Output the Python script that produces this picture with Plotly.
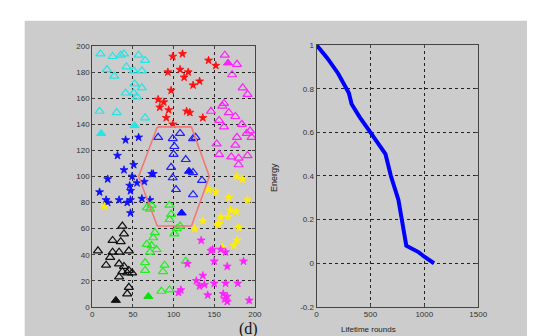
import plotly.graph_objects as go

W, H = 535, 336

# ---- scatter data (left panel) ----
cyan_x = [10, 25, 35, 39, 57, 65, 18, 27, 42, 51, 61, 52, 61, 41, 51, 55, 9, 30, 65]
cyan_y = [194, 192, 193, 194, 193, 189, 182, 177, 184, 181, 181, 171, 168, 164, 164, 161, 150, 149, 145]
cyan_head_x = [11, 52]
cyan_head_y = [133, 139]

red_x = [99, 111, 143, 152, 93, 108, 118, 113, 124, 132, 97, 81, 88, 83, 94, 116, 120, 136, 91, 99]
red_y = [192, 194, 189, 185, 180, 182, 180, 176, 170, 173, 166, 159, 157, 153, 151, 150, 149, 145, 145, 140]

mag_tri_x = [163, 178, 172, 185, 191, 162, 160, 146, 168, 176, 162, 184, 194, 190, 196, 178, 176, 153, 156, 171, 180, 191, 180, 156]
mag_tri_y = [193, 186, 178, 168, 163, 156, 154, 150, 149, 146, 138, 140, 135, 133, 130, 130, 124, 125, 117, 115, 114, 116, 109, 143]
mag_head_x = [167]
mag_head_y = [187]

blue_star_x = [41, 57, 31, 39, 51, 73, 49, 55, 64, 75, 19, 9, 46, 47, 17, 33, 43, 47, 19, 61, 71, 47]
blue_star_y = [128, 130, 116, 105, 109, 102, 100, 95, 96, 102, 98, 88, 93, 89, 82, 82, 80, 82, 80, 83, 82, 72]
blue_tri_x = [81, 99, 108, 124, 101, 100, 115, 97, 124, 99, 135, 103, 124, 127]
blue_tri_y = [130, 129, 133, 129, 123, 117, 113, 107, 103, 99, 97, 90, 86, 130]
blue_head_x = [119, 110]
blue_head_y = [104, 72]

green_x = [73, 71, 67, 95, 97, 95, 108, 101, 77, 75, 67, 73, 79, 71, 65, 65, 89, 87, 115, 85, 95, 104]
green_y = [78, 75, 76, 78, 71, 67, 62, 56, 57, 53, 48, 47, 44, 42, 34, 28, 32, 27, 35, 12, 13, 60]
green_head_x = [69]
green_head_y = [8]

black_x = [37, 39, 25, 35, 7, 25, 33, 45, 22, 17, 33, 39, 45, 49, 43, 37, 33, 45, 43]
black_y = [62, 56, 51, 50, 43, 42, 42, 43, 38, 32, 33, 31, 28, 26, 26, 27, 23, 15, 10]
black_head_x = [29]
black_head_y = [5]

yellow_x = [178, 185, 143, 152, 168, 191, 170, 177, 158, 167, 136, 156, 154, 126, 180, 178, 174, 160, 15]
yellow_y = [100, 98, 90, 88, 84, 82, 74, 73, 69, 69, 66, 64, 63, 60, 61, 51, 47, 46, 77]

mag_star_x = [134, 148, 158, 117, 150, 166, 186, 136, 128, 132, 150, 164, 179, 142, 161, 166, 166, 193, 146, 164, 109, 106, 138, 163]
mag_star_y = [51, 44, 44, 33, 35, 31, 35, 24, 20, 16, 18, 18, 18, 9, 10, 8, 4, 5, 43, 42, 13, 11, 17, 6]

hex_x = [80, 122, 144, 122, 80, 57, 80]
hex_y = [138, 138, 100, 62, 62, 100, 138]

# ---- energy data (right panel) ----
rounds = [0, 100, 200, 253, 300, 325, 400, 500, 600, 640, 690, 760, 833, 870, 950, 1000, 1090]
energy = [1.0, 0.94, 0.87, 0.82, 0.78, 0.73, 0.67, 0.60, 0.53, 0.50, 0.40, 0.29, 0.08, 0.07, 0.05, 0.03, 0.0]

left_xticks = [0, 50, 100, 150, 200]
left_yticks = list(range(0, 201, 20))
right_xticks = [0, 500, 1000, 1500]
right_yticks = [-0.2, 0, 0.2, 0.4, 0.6, 0.8, 1]
right_ylabels = ["-0.2", "0", "0.2", "0.4", "0.6", "0.8", "1"]

fig = go.Figure()

def tri_open(x, y, color):
    fig.add_trace(go.Scatter(x=x, y=y, mode="markers", xaxis="x", yaxis="y",
                             marker=dict(symbol="triangle-up-open", size=8, color=color,
                                         line=dict(width=1.2, color=color))))

def tri_fill(x, y, color):
    fig.add_trace(go.Scatter(x=x, y=y, mode="markers", xaxis="x", yaxis="y",
                             marker=dict(symbol="triangle-up", size=8, color=color,
                                         line=dict(width=1, color=color))))

def star(x, y, color):
    fig.add_trace(go.Scatter(x=x, y=y, mode="markers", xaxis="x", yaxis="y",
                             marker=dict(symbol="star", size=6, color=color,
                                         line=dict(width=0.8, color=color))))

tri_open(cyan_x, cyan_y, "#22e6e6")
tri_fill(cyan_head_x, cyan_head_y, "#22e6e6")
star(red_x, red_y, "#ff1010")
tri_open(mag_tri_x, mag_tri_y, "#ff22ff")
tri_fill(mag_head_x, mag_head_y, "#ff22ff")
star(blue_star_x, blue_star_y, "#1010ff")
tri_open(blue_tri_x, blue_tri_y, "#2020ff")
tri_fill(blue_head_x, blue_head_y, "#1010ff")
tri_open(green_x, green_y, "#22ee22")
tri_fill(green_head_x, green_head_y, "#11dd11")
tri_open(black_x, black_y, "#111111")
tri_fill(black_head_x, black_head_y, "#111111")
star(yellow_x, yellow_y, "#ffee00")
star(mag_star_x, mag_star_y, "#ff22ff")

fig.add_trace(go.Scatter(x=hex_x, y=hex_y, mode="lines", xaxis="x", yaxis="y",
                         line=dict(color="#f07878", width=1.6)))

fig.add_trace(go.Scatter(x=rounds, y=energy, mode="lines", xaxis="x2", yaxis="y2",
                         line=dict(color="#0000ff", width=4)))

tickfont = dict(family="Liberation Sans, Arial", size=8, color="#333333")
axcommon = dict(showline=True, linecolor="#444444", linewidth=1, mirror="ticks",
                ticks="inside", ticklen=3, tickcolor="#444444",
                showgrid=True, gridcolor="#222222", gridwidth=1, griddash="dot",
                zeroline=False, tickfont=tickfont, fixedrange=True)

fig.update_layout(
    width=W, height=H,
    margin=dict(l=0, r=0, t=0, b=0),
    paper_bgcolor="white",
    plot_bgcolor="white",
    showlegend=False,
    xaxis=dict(domain=[84 / W, 250 / W], range=[0, 200], tickvals=left_xticks, anchor="y", **axcommon),
    yaxis=dict(domain=[1 - 303 / H, 1 - 35 / H], range=[0, 200], tickvals=left_yticks, anchor="x", **axcommon),
    xaxis2=dict(domain=[313 / W, 478 / W], range=[0, 1500], tickvals=right_xticks, anchor="y2", **axcommon),
    yaxis2=dict(domain=[1 - 303 / H, 1 - 34 / H], range=[-0.2, 1], tickvals=right_yticks,
                ticktext=right_ylabels, anchor="x2", **axcommon),
    shapes=[dict(type="rect", xref="paper", yref="paper", x0=15 / W, x1=529 / W, y0=0, y1=1 - 9 / H,
                 fillcolor="#cccccc", line=dict(width=0), layer="below")],
    annotations=[
        dict(text="Energy", xref="paper", yref="paper", x=270 / W, y=1 - 170 / H, showarrow=False,
             textangle=-90, font=dict(family="Liberation Sans, Arial", size=9, color="#222222")),
        dict(text="Lifetime rounds", xref="paper", yref="paper", x=395 / W, y=1 - 326 / H,
             yanchor="middle", showarrow=False, borderpad=0,
             font=dict(family="Liberation Sans, Arial", size=8, color="#222222")),
        dict(text="(d)", xref="paper", yref="paper", x=244 / W, y=1 - 326 / H, yanchor="middle",
             showarrow=False, borderpad=0,
             font=dict(family="Liberation Serif, Times New Roman", size=16, color="#111111")),
    ],
)

fig.write_html("out.html")
